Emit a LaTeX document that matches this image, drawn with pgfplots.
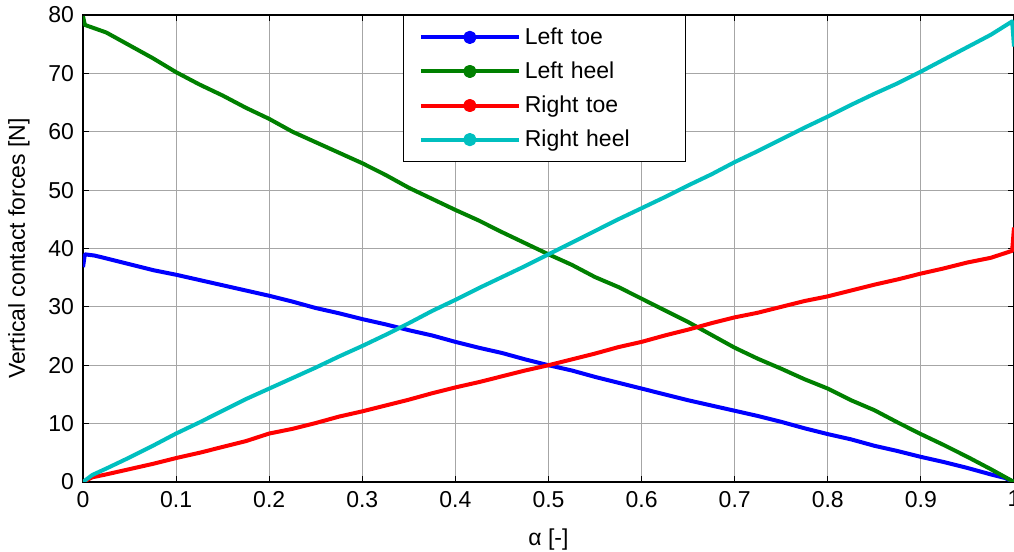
\documentclass[border=0pt]{standalone}
\usepackage{fontspec}
\setmainfont{Liberation Sans}
\usepackage{pgfplots}
\pgfplotsset{compat=1.18}
\definecolor{mblue}{rgb}{0,0,1}
\definecolor{mgreen}{rgb}{0,0.5,0}
\definecolor{mred}{rgb}{1,0,0}
\definecolor{mcyan}{rgb}{0,0.75,0.75}
\begin{document}
\begin{tikzpicture}
\begin{axis}[name=ax,
  scale only axis, width=465.5pt, height=233.5pt,
  xmin=0, xmax=1, ymin=0, ymax=80,
  xtick={0,0.1,...,1.0}, ytick={0,10,...,80},
  xticklabels={0,0.1,0.2,0.3,0.4,0.5,0.6,0.7,0.8,0.9,1},
  /pgf/number format/assume math mode=true,
  font=\fontsize{11.5}{13.5}\selectfont,
  tick label style={font=\fontsize{11.5}{13.5}\selectfont},
  xticklabel style={yshift=-1pt},
  yticklabel style={xshift=-1pt},
  grid=major, major grid style={color=black!35, line width=0.5pt},
  tick align=inside, major tick length=3pt, tick style={black, line width=0.5pt},
  axis line style={line width=0.6pt},
  every axis x label/.style={at={(rel axis cs:0.5,0)}, anchor=center, yshift=-29pt},
  every axis y label/.style={at={(rel axis cs:0,0.5)}, anchor=center, rotate=90, yshift=32pt},
  xlabel={α [-]}, ylabel={Vertical contact forces [N]},
  legend cell align=left,
  legend image code/.code={\draw[mark repeat=2,mark phase=2,#1] plot coordinates {(0pt,0pt) (24.5pt,0pt) (49pt,0pt)};},
  legend image post style={mark=*, mark size=2.3pt, line width=2pt},
  legend style={at={(rel axis cs:0.344,1)}, anchor=north west, draw=black, line width=0.6pt,
     inner xsep=7.5pt, inner ysep=4pt, row sep=3.2pt, font=\fontsize{11.5}{13.5}\selectfont,
     nodes={inner sep=2pt, text width=71pt}},
  every axis plot/.append style={line width=2pt, line join=round},
]
\addplot[mblue] coordinates {
(0,36.8) (0.002,39.0) (0.012,38.8) (0.02,38.5) (0.025,38.3) (0.05,37.3) (0.075,36.3) (0.1,35.5)
(0.125,34.6) (0.15,33.7) (0.175,32.8) (0.2,31.9) (0.225,30.9) (0.25,29.8) (0.275,28.9)
(0.3,27.9) (0.325,27.0) (0.35,26.0) (0.375,25.1) (0.4,24.0) (0.425,23.0) (0.45,22.1)
(0.475,21.0) (0.5,20.0) (0.525,19.1) (0.55,18.0) (0.575,17.0) (0.6,16.0) (0.625,15.0)
(0.65,14.0) (0.675,13.1) (0.7,12.2) (0.725,11.3) (0.75,10.3) (0.775,9.2) (0.8,8.2)
(0.825,7.3) (0.85,6.2) (0.875,5.3) (0.9,4.3) (0.925,3.4) (0.95,2.4) (0.975,1.3) (0.99,0.7) (1.0,0.0)
};
\addlegendentry{Left toe}
\addplot[mgreen] coordinates {
(0,79.8) (0.002,78.3) (0.025,77.0) (0.05,74.8) (0.075,72.6) (0.1,70.2) (0.125,68.1) (0.15,66.2)
(0.175,64.1) (0.2,62.2) (0.225,60.0) (0.25,58.2) (0.275,56.4) (0.3,54.6) (0.325,52.6)
(0.35,50.4) (0.375,48.5) (0.4,46.6) (0.425,44.8) (0.45,42.8) (0.475,40.9) (0.5,39.0)
(0.525,37.2) (0.55,35.1) (0.575,33.4) (0.6,31.4) (0.625,29.4) (0.65,27.4) (0.675,25.2)
(0.7,23.0) (0.725,21.1) (0.75,19.4) (0.775,17.6) (0.8,16.0) (0.825,14.0) (0.85,12.3)
(0.875,10.2) (0.9,8.2) (0.925,6.3) (0.95,4.3) (0.975,2.2) (1.0,0.0)
};
\addlegendentry{Left heel}
\addplot[mred] coordinates {
(0,0) (0.01,0.8) (0.025,1.3) (0.05,2.2) (0.075,3.1) (0.1,4.1) (0.125,5.0) (0.15,6.0)
(0.175,7.0) (0.2,8.3) (0.225,9.1) (0.25,10.1) (0.275,11.2) (0.3,12.1) (0.325,13.1)
(0.35,14.1) (0.375,15.2) (0.4,16.2) (0.425,17.1) (0.45,18.1) (0.475,19.1) (0.5,20.0)
(0.525,21.0) (0.55,22.0) (0.575,23.1) (0.6,24.0) (0.625,25.1) (0.65,26.1) (0.675,27.2)
(0.7,28.2) (0.725,29.0) (0.75,30.0) (0.775,31.0) (0.8,31.8) (0.825,32.8) (0.85,33.8)
(0.875,34.7) (0.9,35.7) (0.925,36.6) (0.95,37.6) (0.975,38.4) (0.998,39.6) (1.0,43.6)
};
\addlegendentry{Right toe}
\addplot[mcyan] coordinates {
(0,0) (0.01,1.2) (0.025,2.3) (0.05,4.2) (0.075,6.2) (0.1,8.3) (0.125,10.2) (0.15,12.2)
(0.175,14.2) (0.2,16.0) (0.225,17.8) (0.25,19.6) (0.275,21.5) (0.3,23.3) (0.325,25.2)
(0.35,27.2) (0.375,29.3) (0.4,31.2) (0.425,33.2) (0.45,35.1) (0.475,37.0) (0.5,39.0)
(0.525,41.0) (0.55,43.0) (0.575,45.0) (0.6,46.9) (0.625,48.8) (0.65,50.8) (0.675,52.7)
(0.7,54.8) (0.725,56.7) (0.75,58.7) (0.775,60.7) (0.8,62.6) (0.825,64.6) (0.85,66.5)
(0.875,68.3) (0.9,70.3) (0.925,72.4) (0.95,74.5) (0.975,76.6) (0.998,78.9) (1.0,74.6)
};
\addlegendentry{Right heel}
\end{axis}
\pgfresetboundingbox
\path ([shift={(-41.5pt,-35pt)}]ax.south west) rectangle ([shift={(0pt,7.5pt)}]ax.north east);
\end{tikzpicture}
\end{document}
